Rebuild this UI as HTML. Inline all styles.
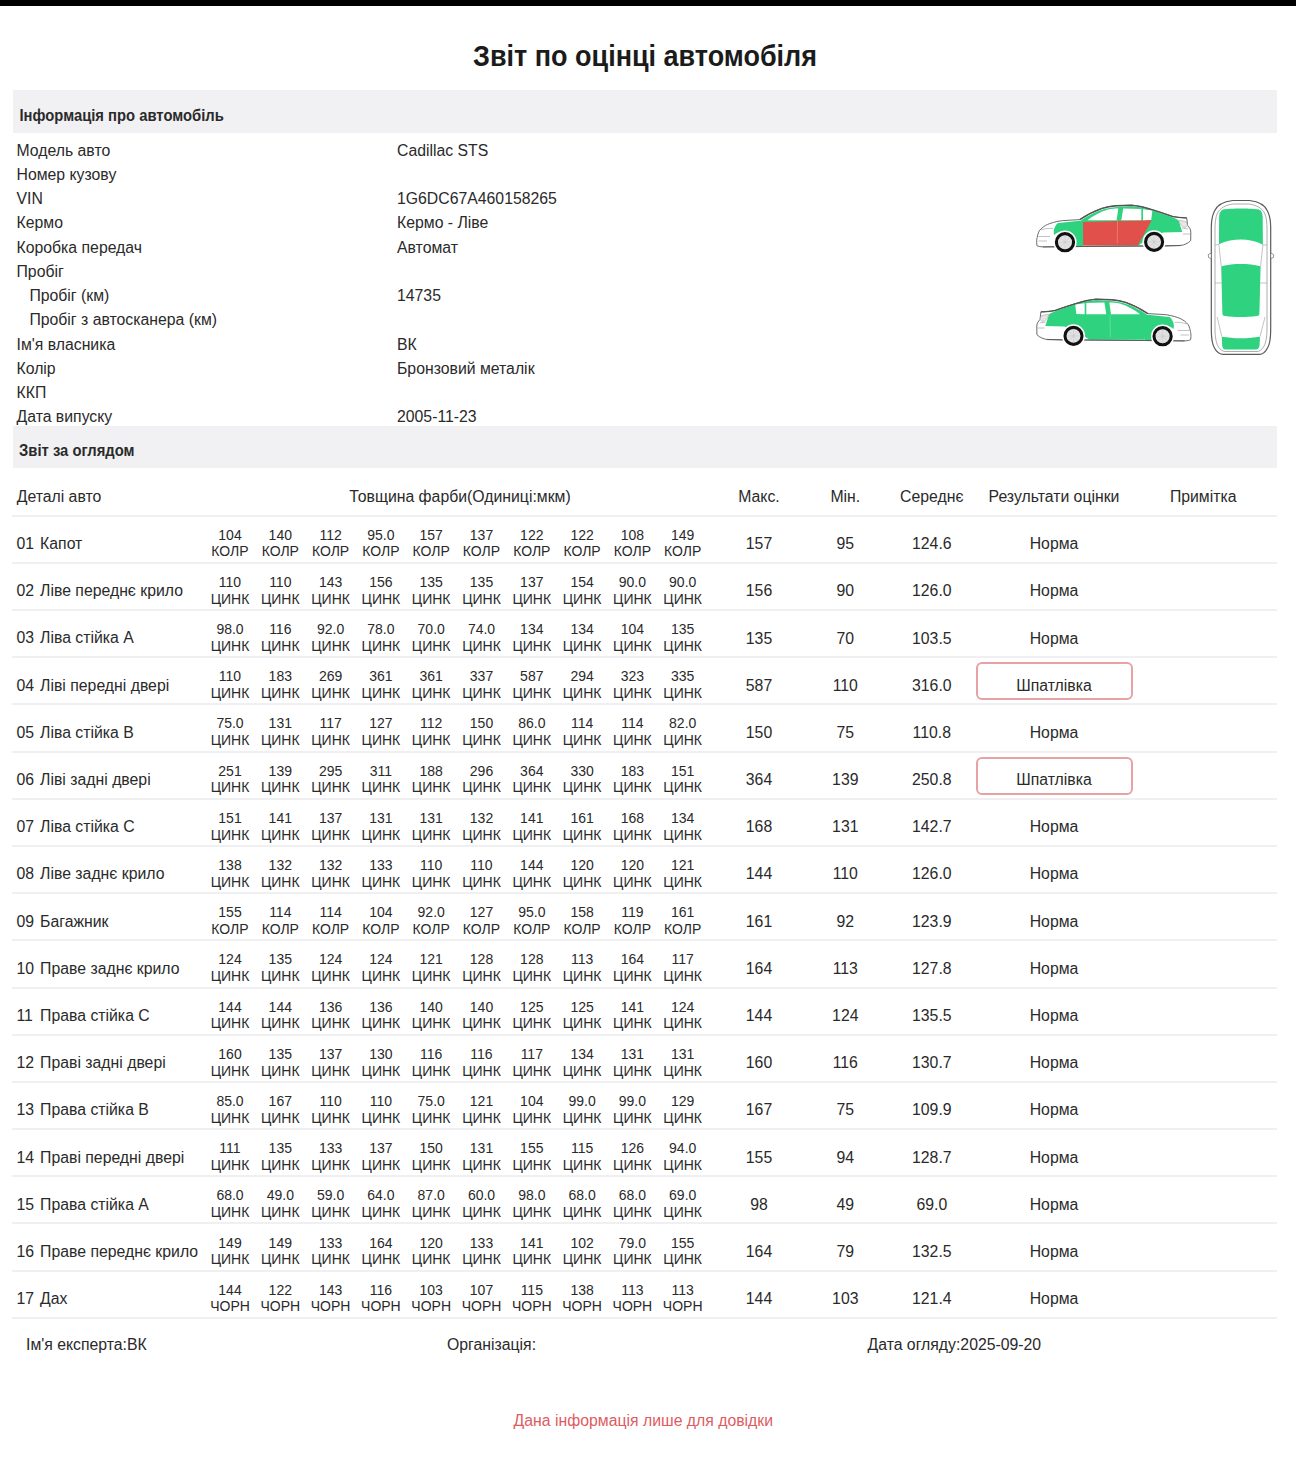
<!DOCTYPE html>
<html><head><meta charset="utf-8">
<style>
html,body{margin:0;padding:0;background:#fff;}
body{width:1296px;height:1459px;position:relative;overflow:hidden;font-family:"Liberation Sans",sans-serif;color:#2a2a2a;}
.t{position:absolute;white-space:nowrap;line-height:1;}
.c{text-align:center;}
.b{font-weight:bold;}
.title{color:#1b1b1b;}
.hd{color:#2a2a2a;transform:scaleY(1.08);transform-origin:0 84.6%;}
.red{color:#de5b62;}
.bar{position:absolute;left:13px;width:1264px;background:#f1f1f4;}
.ln{position:absolute;left:12px;width:1265px;height:2px;background:#f0f0f3;}
.box{position:absolute;box-sizing:border-box;border:2px solid #e6a2a4;border-radius:6px;}
svg{position:absolute;}
</style></head><body>
<div style="position:absolute;left:0;top:0;width:1296px;height:6px;background:#000"></div>
<div class="t c b title" style="left:345.00px;width:600px;top:43.94px;font-size:27px;transform:scaleY(1.07);transform-origin:50% 84%;">Звіт по оцінці автомобіля</div>
<div class="bar" style="top:90px;height:43px"></div>
<div class="t b hd" style="left:19.50px;top:109.17px;font-size:14.8px;">Інформація про автомобіль</div>
<div class="t " style="left:16.50px;top:142.73px;font-size:15.8px;">Модель авто</div>
<div class="t " style="left:397.00px;top:142.73px;font-size:15.8px;">Cadillac STS</div>
<div class="t " style="left:16.50px;top:166.98px;font-size:15.8px;">Номер кузову</div>
<div class="t " style="left:16.50px;top:191.23px;font-size:15.8px;">VIN</div>
<div class="t " style="left:397.00px;top:191.23px;font-size:15.8px;">1G6DC67A460158265</div>
<div class="t " style="left:16.50px;top:215.48px;font-size:15.8px;">Кермо</div>
<div class="t " style="left:397.00px;top:215.48px;font-size:15.8px;">Кермо - Ліве</div>
<div class="t " style="left:16.50px;top:239.73px;font-size:15.8px;">Коробка передач</div>
<div class="t " style="left:397.00px;top:239.73px;font-size:15.8px;">Автомат</div>
<div class="t " style="left:16.50px;top:263.98px;font-size:15.8px;">Пробіг</div>
<div class="t " style="left:29.40px;top:288.23px;font-size:15.8px;">Пробіг (км)</div>
<div class="t " style="left:397.00px;top:288.23px;font-size:15.8px;">14735</div>
<div class="t " style="left:29.40px;top:312.48px;font-size:15.8px;">Пробіг з автосканера (км)</div>
<div class="t " style="left:16.50px;top:336.73px;font-size:15.8px;">Ім'я власника</div>
<div class="t " style="left:397.00px;top:336.73px;font-size:15.8px;">ВК</div>
<div class="t " style="left:16.50px;top:360.98px;font-size:15.8px;">Колір</div>
<div class="t " style="left:397.00px;top:360.98px;font-size:15.8px;">Бронзовий металік</div>
<div class="t " style="left:16.50px;top:385.23px;font-size:15.8px;">ККП</div>
<div class="t " style="left:16.50px;top:409.48px;font-size:15.8px;">Дата випуску</div>
<div class="t " style="left:397.00px;top:409.48px;font-size:15.8px;">2005-11-23</div>
<div class="bar" style="top:426px;height:41.5px"></div>
<div class="t b hd" style="left:19.10px;top:444.27px;font-size:14.8px;">Звіт за оглядом</div>
<div class="t " style="left:16.70px;top:489.33px;font-size:15.8px;">Деталі авто</div>
<div class="t c " style="left:310.00px;width:300px;top:489.33px;font-size:15.8px;">Товщина фарби(Одиниці:мкм)</div>
<div class="t c " style="left:699.00px;width:120px;top:489.33px;font-size:15.8px;">Макс.</div>
<div class="t c " style="left:785.30px;width:120px;top:489.33px;font-size:15.8px;">Мін.</div>
<div class="t c " style="left:871.80px;width:120px;top:489.33px;font-size:15.8px;">Середнє</div>
<div class="t c " style="left:954.00px;width:200px;top:489.33px;font-size:15.8px;">Результати оцінки</div>
<div class="t c " style="left:1133.20px;width:140px;top:489.33px;font-size:15.8px;">Примітка</div>
<div class="ln" style="top:514.60px"></div>
<div class="t " style="left:16.40px;top:536.03px;font-size:15.8px;">01</div>
<div class="t " style="left:40.10px;top:536.03px;font-size:15.8px;">Капот</div>
<div class="t c " style="left:205.00px;width:50px;top:527.65px;font-size:14.0px;">104</div>
<div class="t c " style="left:202.00px;width:56px;top:544.45px;font-size:14.0px;">КОЛР</div>
<div class="t c " style="left:255.30px;width:50px;top:527.65px;font-size:14.0px;">140</div>
<div class="t c " style="left:252.30px;width:56px;top:544.45px;font-size:14.0px;">КОЛР</div>
<div class="t c " style="left:305.60px;width:50px;top:527.65px;font-size:14.0px;">112</div>
<div class="t c " style="left:302.60px;width:56px;top:544.45px;font-size:14.0px;">КОЛР</div>
<div class="t c " style="left:355.90px;width:50px;top:527.65px;font-size:14.0px;">95.0</div>
<div class="t c " style="left:352.90px;width:56px;top:544.45px;font-size:14.0px;">КОЛР</div>
<div class="t c " style="left:406.20px;width:50px;top:527.65px;font-size:14.0px;">157</div>
<div class="t c " style="left:403.20px;width:56px;top:544.45px;font-size:14.0px;">КОЛР</div>
<div class="t c " style="left:456.50px;width:50px;top:527.65px;font-size:14.0px;">137</div>
<div class="t c " style="left:453.50px;width:56px;top:544.45px;font-size:14.0px;">КОЛР</div>
<div class="t c " style="left:506.80px;width:50px;top:527.65px;font-size:14.0px;">122</div>
<div class="t c " style="left:503.80px;width:56px;top:544.45px;font-size:14.0px;">КОЛР</div>
<div class="t c " style="left:557.10px;width:50px;top:527.65px;font-size:14.0px;">122</div>
<div class="t c " style="left:554.10px;width:56px;top:544.45px;font-size:14.0px;">КОЛР</div>
<div class="t c " style="left:607.40px;width:50px;top:527.65px;font-size:14.0px;">108</div>
<div class="t c " style="left:604.40px;width:56px;top:544.45px;font-size:14.0px;">КОЛР</div>
<div class="t c " style="left:657.70px;width:50px;top:527.65px;font-size:14.0px;">149</div>
<div class="t c " style="left:654.70px;width:56px;top:544.45px;font-size:14.0px;">КОЛР</div>
<div class="t c " style="left:709.00px;width:100px;top:536.13px;font-size:15.8px;">157</div>
<div class="t c " style="left:795.30px;width:100px;top:536.13px;font-size:15.8px;">95</div>
<div class="t c " style="left:881.80px;width:100px;top:536.13px;font-size:15.8px;">124.6</div>
<div class="t c " style="left:974.00px;width:160px;top:536.13px;font-size:15.8px;">Норма</div>
<div class="ln" style="top:561.79px"></div>
<div class="t " style="left:16.40px;top:583.22px;font-size:15.8px;">02</div>
<div class="t " style="left:40.10px;top:583.22px;font-size:15.8px;">Ліве переднє крило</div>
<div class="t c " style="left:205.00px;width:50px;top:574.84px;font-size:14.0px;">110</div>
<div class="t c " style="left:202.00px;width:56px;top:591.64px;font-size:14.0px;">ЦИНК</div>
<div class="t c " style="left:255.30px;width:50px;top:574.84px;font-size:14.0px;">110</div>
<div class="t c " style="left:252.30px;width:56px;top:591.64px;font-size:14.0px;">ЦИНК</div>
<div class="t c " style="left:305.60px;width:50px;top:574.84px;font-size:14.0px;">143</div>
<div class="t c " style="left:302.60px;width:56px;top:591.64px;font-size:14.0px;">ЦИНК</div>
<div class="t c " style="left:355.90px;width:50px;top:574.84px;font-size:14.0px;">156</div>
<div class="t c " style="left:352.90px;width:56px;top:591.64px;font-size:14.0px;">ЦИНК</div>
<div class="t c " style="left:406.20px;width:50px;top:574.84px;font-size:14.0px;">135</div>
<div class="t c " style="left:403.20px;width:56px;top:591.64px;font-size:14.0px;">ЦИНК</div>
<div class="t c " style="left:456.50px;width:50px;top:574.84px;font-size:14.0px;">135</div>
<div class="t c " style="left:453.50px;width:56px;top:591.64px;font-size:14.0px;">ЦИНК</div>
<div class="t c " style="left:506.80px;width:50px;top:574.84px;font-size:14.0px;">137</div>
<div class="t c " style="left:503.80px;width:56px;top:591.64px;font-size:14.0px;">ЦИНК</div>
<div class="t c " style="left:557.10px;width:50px;top:574.84px;font-size:14.0px;">154</div>
<div class="t c " style="left:554.10px;width:56px;top:591.64px;font-size:14.0px;">ЦИНК</div>
<div class="t c " style="left:607.40px;width:50px;top:574.84px;font-size:14.0px;">90.0</div>
<div class="t c " style="left:604.40px;width:56px;top:591.64px;font-size:14.0px;">ЦИНК</div>
<div class="t c " style="left:657.70px;width:50px;top:574.84px;font-size:14.0px;">90.0</div>
<div class="t c " style="left:654.70px;width:56px;top:591.64px;font-size:14.0px;">ЦИНК</div>
<div class="t c " style="left:709.00px;width:100px;top:583.32px;font-size:15.8px;">156</div>
<div class="t c " style="left:795.30px;width:100px;top:583.32px;font-size:15.8px;">90</div>
<div class="t c " style="left:881.80px;width:100px;top:583.32px;font-size:15.8px;">126.0</div>
<div class="t c " style="left:974.00px;width:160px;top:583.32px;font-size:15.8px;">Норма</div>
<div class="ln" style="top:608.98px"></div>
<div class="t " style="left:16.40px;top:630.41px;font-size:15.8px;">03</div>
<div class="t " style="left:40.10px;top:630.41px;font-size:15.8px;">Ліва стійка A</div>
<div class="t c " style="left:205.00px;width:50px;top:622.03px;font-size:14.0px;">98.0</div>
<div class="t c " style="left:202.00px;width:56px;top:638.83px;font-size:14.0px;">ЦИНК</div>
<div class="t c " style="left:255.30px;width:50px;top:622.03px;font-size:14.0px;">116</div>
<div class="t c " style="left:252.30px;width:56px;top:638.83px;font-size:14.0px;">ЦИНК</div>
<div class="t c " style="left:305.60px;width:50px;top:622.03px;font-size:14.0px;">92.0</div>
<div class="t c " style="left:302.60px;width:56px;top:638.83px;font-size:14.0px;">ЦИНК</div>
<div class="t c " style="left:355.90px;width:50px;top:622.03px;font-size:14.0px;">78.0</div>
<div class="t c " style="left:352.90px;width:56px;top:638.83px;font-size:14.0px;">ЦИНК</div>
<div class="t c " style="left:406.20px;width:50px;top:622.03px;font-size:14.0px;">70.0</div>
<div class="t c " style="left:403.20px;width:56px;top:638.83px;font-size:14.0px;">ЦИНК</div>
<div class="t c " style="left:456.50px;width:50px;top:622.03px;font-size:14.0px;">74.0</div>
<div class="t c " style="left:453.50px;width:56px;top:638.83px;font-size:14.0px;">ЦИНК</div>
<div class="t c " style="left:506.80px;width:50px;top:622.03px;font-size:14.0px;">134</div>
<div class="t c " style="left:503.80px;width:56px;top:638.83px;font-size:14.0px;">ЦИНК</div>
<div class="t c " style="left:557.10px;width:50px;top:622.03px;font-size:14.0px;">134</div>
<div class="t c " style="left:554.10px;width:56px;top:638.83px;font-size:14.0px;">ЦИНК</div>
<div class="t c " style="left:607.40px;width:50px;top:622.03px;font-size:14.0px;">104</div>
<div class="t c " style="left:604.40px;width:56px;top:638.83px;font-size:14.0px;">ЦИНК</div>
<div class="t c " style="left:657.70px;width:50px;top:622.03px;font-size:14.0px;">135</div>
<div class="t c " style="left:654.70px;width:56px;top:638.83px;font-size:14.0px;">ЦИНК</div>
<div class="t c " style="left:709.00px;width:100px;top:630.51px;font-size:15.8px;">135</div>
<div class="t c " style="left:795.30px;width:100px;top:630.51px;font-size:15.8px;">70</div>
<div class="t c " style="left:881.80px;width:100px;top:630.51px;font-size:15.8px;">103.5</div>
<div class="t c " style="left:974.00px;width:160px;top:630.51px;font-size:15.8px;">Норма</div>
<div class="ln" style="top:656.17px"></div>
<div class="t " style="left:16.40px;top:677.60px;font-size:15.8px;">04</div>
<div class="t " style="left:40.10px;top:677.60px;font-size:15.8px;">Ліві передні двері</div>
<div class="t c " style="left:205.00px;width:50px;top:669.22px;font-size:14.0px;">110</div>
<div class="t c " style="left:202.00px;width:56px;top:686.02px;font-size:14.0px;">ЦИНК</div>
<div class="t c " style="left:255.30px;width:50px;top:669.22px;font-size:14.0px;">183</div>
<div class="t c " style="left:252.30px;width:56px;top:686.02px;font-size:14.0px;">ЦИНК</div>
<div class="t c " style="left:305.60px;width:50px;top:669.22px;font-size:14.0px;">269</div>
<div class="t c " style="left:302.60px;width:56px;top:686.02px;font-size:14.0px;">ЦИНК</div>
<div class="t c " style="left:355.90px;width:50px;top:669.22px;font-size:14.0px;">361</div>
<div class="t c " style="left:352.90px;width:56px;top:686.02px;font-size:14.0px;">ЦИНК</div>
<div class="t c " style="left:406.20px;width:50px;top:669.22px;font-size:14.0px;">361</div>
<div class="t c " style="left:403.20px;width:56px;top:686.02px;font-size:14.0px;">ЦИНК</div>
<div class="t c " style="left:456.50px;width:50px;top:669.22px;font-size:14.0px;">337</div>
<div class="t c " style="left:453.50px;width:56px;top:686.02px;font-size:14.0px;">ЦИНК</div>
<div class="t c " style="left:506.80px;width:50px;top:669.22px;font-size:14.0px;">587</div>
<div class="t c " style="left:503.80px;width:56px;top:686.02px;font-size:14.0px;">ЦИНК</div>
<div class="t c " style="left:557.10px;width:50px;top:669.22px;font-size:14.0px;">294</div>
<div class="t c " style="left:554.10px;width:56px;top:686.02px;font-size:14.0px;">ЦИНК</div>
<div class="t c " style="left:607.40px;width:50px;top:669.22px;font-size:14.0px;">323</div>
<div class="t c " style="left:604.40px;width:56px;top:686.02px;font-size:14.0px;">ЦИНК</div>
<div class="t c " style="left:657.70px;width:50px;top:669.22px;font-size:14.0px;">335</div>
<div class="t c " style="left:654.70px;width:56px;top:686.02px;font-size:14.0px;">ЦИНК</div>
<div class="t c " style="left:709.00px;width:100px;top:677.70px;font-size:15.8px;">587</div>
<div class="t c " style="left:795.30px;width:100px;top:677.70px;font-size:15.8px;">110</div>
<div class="t c " style="left:881.80px;width:100px;top:677.70px;font-size:15.8px;">316.0</div>
<div class="box" style="left:976px;top:662.37px;width:156.5px;height:37.8px"></div>
<div class="t c " style="left:974.00px;width:160px;top:677.70px;font-size:15.8px;">Шпатлівка</div>
<div class="ln" style="top:703.36px"></div>
<div class="t " style="left:16.40px;top:724.79px;font-size:15.8px;">05</div>
<div class="t " style="left:40.10px;top:724.79px;font-size:15.8px;">Ліва стійка B</div>
<div class="t c " style="left:205.00px;width:50px;top:716.41px;font-size:14.0px;">75.0</div>
<div class="t c " style="left:202.00px;width:56px;top:733.21px;font-size:14.0px;">ЦИНК</div>
<div class="t c " style="left:255.30px;width:50px;top:716.41px;font-size:14.0px;">131</div>
<div class="t c " style="left:252.30px;width:56px;top:733.21px;font-size:14.0px;">ЦИНК</div>
<div class="t c " style="left:305.60px;width:50px;top:716.41px;font-size:14.0px;">117</div>
<div class="t c " style="left:302.60px;width:56px;top:733.21px;font-size:14.0px;">ЦИНК</div>
<div class="t c " style="left:355.90px;width:50px;top:716.41px;font-size:14.0px;">127</div>
<div class="t c " style="left:352.90px;width:56px;top:733.21px;font-size:14.0px;">ЦИНК</div>
<div class="t c " style="left:406.20px;width:50px;top:716.41px;font-size:14.0px;">112</div>
<div class="t c " style="left:403.20px;width:56px;top:733.21px;font-size:14.0px;">ЦИНК</div>
<div class="t c " style="left:456.50px;width:50px;top:716.41px;font-size:14.0px;">150</div>
<div class="t c " style="left:453.50px;width:56px;top:733.21px;font-size:14.0px;">ЦИНК</div>
<div class="t c " style="left:506.80px;width:50px;top:716.41px;font-size:14.0px;">86.0</div>
<div class="t c " style="left:503.80px;width:56px;top:733.21px;font-size:14.0px;">ЦИНК</div>
<div class="t c " style="left:557.10px;width:50px;top:716.41px;font-size:14.0px;">114</div>
<div class="t c " style="left:554.10px;width:56px;top:733.21px;font-size:14.0px;">ЦИНК</div>
<div class="t c " style="left:607.40px;width:50px;top:716.41px;font-size:14.0px;">114</div>
<div class="t c " style="left:604.40px;width:56px;top:733.21px;font-size:14.0px;">ЦИНК</div>
<div class="t c " style="left:657.70px;width:50px;top:716.41px;font-size:14.0px;">82.0</div>
<div class="t c " style="left:654.70px;width:56px;top:733.21px;font-size:14.0px;">ЦИНК</div>
<div class="t c " style="left:709.00px;width:100px;top:724.89px;font-size:15.8px;">150</div>
<div class="t c " style="left:795.30px;width:100px;top:724.89px;font-size:15.8px;">75</div>
<div class="t c " style="left:881.80px;width:100px;top:724.89px;font-size:15.8px;">110.8</div>
<div class="t c " style="left:974.00px;width:160px;top:724.89px;font-size:15.8px;">Норма</div>
<div class="ln" style="top:750.55px"></div>
<div class="t " style="left:16.40px;top:771.98px;font-size:15.8px;">06</div>
<div class="t " style="left:40.10px;top:771.98px;font-size:15.8px;">Ліві задні двері</div>
<div class="t c " style="left:205.00px;width:50px;top:763.60px;font-size:14.0px;">251</div>
<div class="t c " style="left:202.00px;width:56px;top:780.40px;font-size:14.0px;">ЦИНК</div>
<div class="t c " style="left:255.30px;width:50px;top:763.60px;font-size:14.0px;">139</div>
<div class="t c " style="left:252.30px;width:56px;top:780.40px;font-size:14.0px;">ЦИНК</div>
<div class="t c " style="left:305.60px;width:50px;top:763.60px;font-size:14.0px;">295</div>
<div class="t c " style="left:302.60px;width:56px;top:780.40px;font-size:14.0px;">ЦИНК</div>
<div class="t c " style="left:355.90px;width:50px;top:763.60px;font-size:14.0px;">311</div>
<div class="t c " style="left:352.90px;width:56px;top:780.40px;font-size:14.0px;">ЦИНК</div>
<div class="t c " style="left:406.20px;width:50px;top:763.60px;font-size:14.0px;">188</div>
<div class="t c " style="left:403.20px;width:56px;top:780.40px;font-size:14.0px;">ЦИНК</div>
<div class="t c " style="left:456.50px;width:50px;top:763.60px;font-size:14.0px;">296</div>
<div class="t c " style="left:453.50px;width:56px;top:780.40px;font-size:14.0px;">ЦИНК</div>
<div class="t c " style="left:506.80px;width:50px;top:763.60px;font-size:14.0px;">364</div>
<div class="t c " style="left:503.80px;width:56px;top:780.40px;font-size:14.0px;">ЦИНК</div>
<div class="t c " style="left:557.10px;width:50px;top:763.60px;font-size:14.0px;">330</div>
<div class="t c " style="left:554.10px;width:56px;top:780.40px;font-size:14.0px;">ЦИНК</div>
<div class="t c " style="left:607.40px;width:50px;top:763.60px;font-size:14.0px;">183</div>
<div class="t c " style="left:604.40px;width:56px;top:780.40px;font-size:14.0px;">ЦИНК</div>
<div class="t c " style="left:657.70px;width:50px;top:763.60px;font-size:14.0px;">151</div>
<div class="t c " style="left:654.70px;width:56px;top:780.40px;font-size:14.0px;">ЦИНК</div>
<div class="t c " style="left:709.00px;width:100px;top:772.08px;font-size:15.8px;">364</div>
<div class="t c " style="left:795.30px;width:100px;top:772.08px;font-size:15.8px;">139</div>
<div class="t c " style="left:881.80px;width:100px;top:772.08px;font-size:15.8px;">250.8</div>
<div class="box" style="left:976px;top:756.75px;width:156.5px;height:37.8px"></div>
<div class="t c " style="left:974.00px;width:160px;top:772.08px;font-size:15.8px;">Шпатлівка</div>
<div class="ln" style="top:797.74px"></div>
<div class="t " style="left:16.40px;top:819.17px;font-size:15.8px;">07</div>
<div class="t " style="left:40.10px;top:819.17px;font-size:15.8px;">Ліва стійка C</div>
<div class="t c " style="left:205.00px;width:50px;top:810.79px;font-size:14.0px;">151</div>
<div class="t c " style="left:202.00px;width:56px;top:827.59px;font-size:14.0px;">ЦИНК</div>
<div class="t c " style="left:255.30px;width:50px;top:810.79px;font-size:14.0px;">141</div>
<div class="t c " style="left:252.30px;width:56px;top:827.59px;font-size:14.0px;">ЦИНК</div>
<div class="t c " style="left:305.60px;width:50px;top:810.79px;font-size:14.0px;">137</div>
<div class="t c " style="left:302.60px;width:56px;top:827.59px;font-size:14.0px;">ЦИНК</div>
<div class="t c " style="left:355.90px;width:50px;top:810.79px;font-size:14.0px;">131</div>
<div class="t c " style="left:352.90px;width:56px;top:827.59px;font-size:14.0px;">ЦИНК</div>
<div class="t c " style="left:406.20px;width:50px;top:810.79px;font-size:14.0px;">131</div>
<div class="t c " style="left:403.20px;width:56px;top:827.59px;font-size:14.0px;">ЦИНК</div>
<div class="t c " style="left:456.50px;width:50px;top:810.79px;font-size:14.0px;">132</div>
<div class="t c " style="left:453.50px;width:56px;top:827.59px;font-size:14.0px;">ЦИНК</div>
<div class="t c " style="left:506.80px;width:50px;top:810.79px;font-size:14.0px;">141</div>
<div class="t c " style="left:503.80px;width:56px;top:827.59px;font-size:14.0px;">ЦИНК</div>
<div class="t c " style="left:557.10px;width:50px;top:810.79px;font-size:14.0px;">161</div>
<div class="t c " style="left:554.10px;width:56px;top:827.59px;font-size:14.0px;">ЦИНК</div>
<div class="t c " style="left:607.40px;width:50px;top:810.79px;font-size:14.0px;">168</div>
<div class="t c " style="left:604.40px;width:56px;top:827.59px;font-size:14.0px;">ЦИНК</div>
<div class="t c " style="left:657.70px;width:50px;top:810.79px;font-size:14.0px;">134</div>
<div class="t c " style="left:654.70px;width:56px;top:827.59px;font-size:14.0px;">ЦИНК</div>
<div class="t c " style="left:709.00px;width:100px;top:819.27px;font-size:15.8px;">168</div>
<div class="t c " style="left:795.30px;width:100px;top:819.27px;font-size:15.8px;">131</div>
<div class="t c " style="left:881.80px;width:100px;top:819.27px;font-size:15.8px;">142.7</div>
<div class="t c " style="left:974.00px;width:160px;top:819.27px;font-size:15.8px;">Норма</div>
<div class="ln" style="top:844.93px"></div>
<div class="t " style="left:16.40px;top:866.36px;font-size:15.8px;">08</div>
<div class="t " style="left:40.10px;top:866.36px;font-size:15.8px;">Ліве заднє крило</div>
<div class="t c " style="left:205.00px;width:50px;top:857.98px;font-size:14.0px;">138</div>
<div class="t c " style="left:202.00px;width:56px;top:874.78px;font-size:14.0px;">ЦИНК</div>
<div class="t c " style="left:255.30px;width:50px;top:857.98px;font-size:14.0px;">132</div>
<div class="t c " style="left:252.30px;width:56px;top:874.78px;font-size:14.0px;">ЦИНК</div>
<div class="t c " style="left:305.60px;width:50px;top:857.98px;font-size:14.0px;">132</div>
<div class="t c " style="left:302.60px;width:56px;top:874.78px;font-size:14.0px;">ЦИНК</div>
<div class="t c " style="left:355.90px;width:50px;top:857.98px;font-size:14.0px;">133</div>
<div class="t c " style="left:352.90px;width:56px;top:874.78px;font-size:14.0px;">ЦИНК</div>
<div class="t c " style="left:406.20px;width:50px;top:857.98px;font-size:14.0px;">110</div>
<div class="t c " style="left:403.20px;width:56px;top:874.78px;font-size:14.0px;">ЦИНК</div>
<div class="t c " style="left:456.50px;width:50px;top:857.98px;font-size:14.0px;">110</div>
<div class="t c " style="left:453.50px;width:56px;top:874.78px;font-size:14.0px;">ЦИНК</div>
<div class="t c " style="left:506.80px;width:50px;top:857.98px;font-size:14.0px;">144</div>
<div class="t c " style="left:503.80px;width:56px;top:874.78px;font-size:14.0px;">ЦИНК</div>
<div class="t c " style="left:557.10px;width:50px;top:857.98px;font-size:14.0px;">120</div>
<div class="t c " style="left:554.10px;width:56px;top:874.78px;font-size:14.0px;">ЦИНК</div>
<div class="t c " style="left:607.40px;width:50px;top:857.98px;font-size:14.0px;">120</div>
<div class="t c " style="left:604.40px;width:56px;top:874.78px;font-size:14.0px;">ЦИНК</div>
<div class="t c " style="left:657.70px;width:50px;top:857.98px;font-size:14.0px;">121</div>
<div class="t c " style="left:654.70px;width:56px;top:874.78px;font-size:14.0px;">ЦИНК</div>
<div class="t c " style="left:709.00px;width:100px;top:866.46px;font-size:15.8px;">144</div>
<div class="t c " style="left:795.30px;width:100px;top:866.46px;font-size:15.8px;">110</div>
<div class="t c " style="left:881.80px;width:100px;top:866.46px;font-size:15.8px;">126.0</div>
<div class="t c " style="left:974.00px;width:160px;top:866.46px;font-size:15.8px;">Норма</div>
<div class="ln" style="top:892.12px"></div>
<div class="t " style="left:16.40px;top:913.55px;font-size:15.8px;">09</div>
<div class="t " style="left:40.10px;top:913.55px;font-size:15.8px;">Багажник</div>
<div class="t c " style="left:205.00px;width:50px;top:905.17px;font-size:14.0px;">155</div>
<div class="t c " style="left:202.00px;width:56px;top:921.97px;font-size:14.0px;">КОЛР</div>
<div class="t c " style="left:255.30px;width:50px;top:905.17px;font-size:14.0px;">114</div>
<div class="t c " style="left:252.30px;width:56px;top:921.97px;font-size:14.0px;">КОЛР</div>
<div class="t c " style="left:305.60px;width:50px;top:905.17px;font-size:14.0px;">114</div>
<div class="t c " style="left:302.60px;width:56px;top:921.97px;font-size:14.0px;">КОЛР</div>
<div class="t c " style="left:355.90px;width:50px;top:905.17px;font-size:14.0px;">104</div>
<div class="t c " style="left:352.90px;width:56px;top:921.97px;font-size:14.0px;">КОЛР</div>
<div class="t c " style="left:406.20px;width:50px;top:905.17px;font-size:14.0px;">92.0</div>
<div class="t c " style="left:403.20px;width:56px;top:921.97px;font-size:14.0px;">КОЛР</div>
<div class="t c " style="left:456.50px;width:50px;top:905.17px;font-size:14.0px;">127</div>
<div class="t c " style="left:453.50px;width:56px;top:921.97px;font-size:14.0px;">КОЛР</div>
<div class="t c " style="left:506.80px;width:50px;top:905.17px;font-size:14.0px;">95.0</div>
<div class="t c " style="left:503.80px;width:56px;top:921.97px;font-size:14.0px;">КОЛР</div>
<div class="t c " style="left:557.10px;width:50px;top:905.17px;font-size:14.0px;">158</div>
<div class="t c " style="left:554.10px;width:56px;top:921.97px;font-size:14.0px;">КОЛР</div>
<div class="t c " style="left:607.40px;width:50px;top:905.17px;font-size:14.0px;">119</div>
<div class="t c " style="left:604.40px;width:56px;top:921.97px;font-size:14.0px;">КОЛР</div>
<div class="t c " style="left:657.70px;width:50px;top:905.17px;font-size:14.0px;">161</div>
<div class="t c " style="left:654.70px;width:56px;top:921.97px;font-size:14.0px;">КОЛР</div>
<div class="t c " style="left:709.00px;width:100px;top:913.65px;font-size:15.8px;">161</div>
<div class="t c " style="left:795.30px;width:100px;top:913.65px;font-size:15.8px;">92</div>
<div class="t c " style="left:881.80px;width:100px;top:913.65px;font-size:15.8px;">123.9</div>
<div class="t c " style="left:974.00px;width:160px;top:913.65px;font-size:15.8px;">Норма</div>
<div class="ln" style="top:939.31px"></div>
<div class="t " style="left:16.40px;top:960.74px;font-size:15.8px;">10</div>
<div class="t " style="left:40.10px;top:960.74px;font-size:15.8px;">Праве заднє крило</div>
<div class="t c " style="left:205.00px;width:50px;top:952.36px;font-size:14.0px;">124</div>
<div class="t c " style="left:202.00px;width:56px;top:969.16px;font-size:14.0px;">ЦИНК</div>
<div class="t c " style="left:255.30px;width:50px;top:952.36px;font-size:14.0px;">135</div>
<div class="t c " style="left:252.30px;width:56px;top:969.16px;font-size:14.0px;">ЦИНК</div>
<div class="t c " style="left:305.60px;width:50px;top:952.36px;font-size:14.0px;">124</div>
<div class="t c " style="left:302.60px;width:56px;top:969.16px;font-size:14.0px;">ЦИНК</div>
<div class="t c " style="left:355.90px;width:50px;top:952.36px;font-size:14.0px;">124</div>
<div class="t c " style="left:352.90px;width:56px;top:969.16px;font-size:14.0px;">ЦИНК</div>
<div class="t c " style="left:406.20px;width:50px;top:952.36px;font-size:14.0px;">121</div>
<div class="t c " style="left:403.20px;width:56px;top:969.16px;font-size:14.0px;">ЦИНК</div>
<div class="t c " style="left:456.50px;width:50px;top:952.36px;font-size:14.0px;">128</div>
<div class="t c " style="left:453.50px;width:56px;top:969.16px;font-size:14.0px;">ЦИНК</div>
<div class="t c " style="left:506.80px;width:50px;top:952.36px;font-size:14.0px;">128</div>
<div class="t c " style="left:503.80px;width:56px;top:969.16px;font-size:14.0px;">ЦИНК</div>
<div class="t c " style="left:557.10px;width:50px;top:952.36px;font-size:14.0px;">113</div>
<div class="t c " style="left:554.10px;width:56px;top:969.16px;font-size:14.0px;">ЦИНК</div>
<div class="t c " style="left:607.40px;width:50px;top:952.36px;font-size:14.0px;">164</div>
<div class="t c " style="left:604.40px;width:56px;top:969.16px;font-size:14.0px;">ЦИНК</div>
<div class="t c " style="left:657.70px;width:50px;top:952.36px;font-size:14.0px;">117</div>
<div class="t c " style="left:654.70px;width:56px;top:969.16px;font-size:14.0px;">ЦИНК</div>
<div class="t c " style="left:709.00px;width:100px;top:960.84px;font-size:15.8px;">164</div>
<div class="t c " style="left:795.30px;width:100px;top:960.84px;font-size:15.8px;">113</div>
<div class="t c " style="left:881.80px;width:100px;top:960.84px;font-size:15.8px;">127.8</div>
<div class="t c " style="left:974.00px;width:160px;top:960.84px;font-size:15.8px;">Норма</div>
<div class="ln" style="top:986.50px"></div>
<div class="t " style="left:16.40px;top:1007.93px;font-size:15.8px;">11</div>
<div class="t " style="left:40.10px;top:1007.93px;font-size:15.8px;">Права стійка C</div>
<div class="t c " style="left:205.00px;width:50px;top:999.55px;font-size:14.0px;">144</div>
<div class="t c " style="left:202.00px;width:56px;top:1016.35px;font-size:14.0px;">ЦИНК</div>
<div class="t c " style="left:255.30px;width:50px;top:999.55px;font-size:14.0px;">144</div>
<div class="t c " style="left:252.30px;width:56px;top:1016.35px;font-size:14.0px;">ЦИНК</div>
<div class="t c " style="left:305.60px;width:50px;top:999.55px;font-size:14.0px;">136</div>
<div class="t c " style="left:302.60px;width:56px;top:1016.35px;font-size:14.0px;">ЦИНК</div>
<div class="t c " style="left:355.90px;width:50px;top:999.55px;font-size:14.0px;">136</div>
<div class="t c " style="left:352.90px;width:56px;top:1016.35px;font-size:14.0px;">ЦИНК</div>
<div class="t c " style="left:406.20px;width:50px;top:999.55px;font-size:14.0px;">140</div>
<div class="t c " style="left:403.20px;width:56px;top:1016.35px;font-size:14.0px;">ЦИНК</div>
<div class="t c " style="left:456.50px;width:50px;top:999.55px;font-size:14.0px;">140</div>
<div class="t c " style="left:453.50px;width:56px;top:1016.35px;font-size:14.0px;">ЦИНК</div>
<div class="t c " style="left:506.80px;width:50px;top:999.55px;font-size:14.0px;">125</div>
<div class="t c " style="left:503.80px;width:56px;top:1016.35px;font-size:14.0px;">ЦИНК</div>
<div class="t c " style="left:557.10px;width:50px;top:999.55px;font-size:14.0px;">125</div>
<div class="t c " style="left:554.10px;width:56px;top:1016.35px;font-size:14.0px;">ЦИНК</div>
<div class="t c " style="left:607.40px;width:50px;top:999.55px;font-size:14.0px;">141</div>
<div class="t c " style="left:604.40px;width:56px;top:1016.35px;font-size:14.0px;">ЦИНК</div>
<div class="t c " style="left:657.70px;width:50px;top:999.55px;font-size:14.0px;">124</div>
<div class="t c " style="left:654.70px;width:56px;top:1016.35px;font-size:14.0px;">ЦИНК</div>
<div class="t c " style="left:709.00px;width:100px;top:1008.03px;font-size:15.8px;">144</div>
<div class="t c " style="left:795.30px;width:100px;top:1008.03px;font-size:15.8px;">124</div>
<div class="t c " style="left:881.80px;width:100px;top:1008.03px;font-size:15.8px;">135.5</div>
<div class="t c " style="left:974.00px;width:160px;top:1008.03px;font-size:15.8px;">Норма</div>
<div class="ln" style="top:1033.69px"></div>
<div class="t " style="left:16.40px;top:1055.12px;font-size:15.8px;">12</div>
<div class="t " style="left:40.10px;top:1055.12px;font-size:15.8px;">Праві задні двері</div>
<div class="t c " style="left:205.00px;width:50px;top:1046.74px;font-size:14.0px;">160</div>
<div class="t c " style="left:202.00px;width:56px;top:1063.54px;font-size:14.0px;">ЦИНК</div>
<div class="t c " style="left:255.30px;width:50px;top:1046.74px;font-size:14.0px;">135</div>
<div class="t c " style="left:252.30px;width:56px;top:1063.54px;font-size:14.0px;">ЦИНК</div>
<div class="t c " style="left:305.60px;width:50px;top:1046.74px;font-size:14.0px;">137</div>
<div class="t c " style="left:302.60px;width:56px;top:1063.54px;font-size:14.0px;">ЦИНК</div>
<div class="t c " style="left:355.90px;width:50px;top:1046.74px;font-size:14.0px;">130</div>
<div class="t c " style="left:352.90px;width:56px;top:1063.54px;font-size:14.0px;">ЦИНК</div>
<div class="t c " style="left:406.20px;width:50px;top:1046.74px;font-size:14.0px;">116</div>
<div class="t c " style="left:403.20px;width:56px;top:1063.54px;font-size:14.0px;">ЦИНК</div>
<div class="t c " style="left:456.50px;width:50px;top:1046.74px;font-size:14.0px;">116</div>
<div class="t c " style="left:453.50px;width:56px;top:1063.54px;font-size:14.0px;">ЦИНК</div>
<div class="t c " style="left:506.80px;width:50px;top:1046.74px;font-size:14.0px;">117</div>
<div class="t c " style="left:503.80px;width:56px;top:1063.54px;font-size:14.0px;">ЦИНК</div>
<div class="t c " style="left:557.10px;width:50px;top:1046.74px;font-size:14.0px;">134</div>
<div class="t c " style="left:554.10px;width:56px;top:1063.54px;font-size:14.0px;">ЦИНК</div>
<div class="t c " style="left:607.40px;width:50px;top:1046.74px;font-size:14.0px;">131</div>
<div class="t c " style="left:604.40px;width:56px;top:1063.54px;font-size:14.0px;">ЦИНК</div>
<div class="t c " style="left:657.70px;width:50px;top:1046.74px;font-size:14.0px;">131</div>
<div class="t c " style="left:654.70px;width:56px;top:1063.54px;font-size:14.0px;">ЦИНК</div>
<div class="t c " style="left:709.00px;width:100px;top:1055.22px;font-size:15.8px;">160</div>
<div class="t c " style="left:795.30px;width:100px;top:1055.22px;font-size:15.8px;">116</div>
<div class="t c " style="left:881.80px;width:100px;top:1055.22px;font-size:15.8px;">130.7</div>
<div class="t c " style="left:974.00px;width:160px;top:1055.22px;font-size:15.8px;">Норма</div>
<div class="ln" style="top:1080.88px"></div>
<div class="t " style="left:16.40px;top:1102.31px;font-size:15.8px;">13</div>
<div class="t " style="left:40.10px;top:1102.31px;font-size:15.8px;">Права стійка B</div>
<div class="t c " style="left:205.00px;width:50px;top:1093.93px;font-size:14.0px;">85.0</div>
<div class="t c " style="left:202.00px;width:56px;top:1110.73px;font-size:14.0px;">ЦИНК</div>
<div class="t c " style="left:255.30px;width:50px;top:1093.93px;font-size:14.0px;">167</div>
<div class="t c " style="left:252.30px;width:56px;top:1110.73px;font-size:14.0px;">ЦИНК</div>
<div class="t c " style="left:305.60px;width:50px;top:1093.93px;font-size:14.0px;">110</div>
<div class="t c " style="left:302.60px;width:56px;top:1110.73px;font-size:14.0px;">ЦИНК</div>
<div class="t c " style="left:355.90px;width:50px;top:1093.93px;font-size:14.0px;">110</div>
<div class="t c " style="left:352.90px;width:56px;top:1110.73px;font-size:14.0px;">ЦИНК</div>
<div class="t c " style="left:406.20px;width:50px;top:1093.93px;font-size:14.0px;">75.0</div>
<div class="t c " style="left:403.20px;width:56px;top:1110.73px;font-size:14.0px;">ЦИНК</div>
<div class="t c " style="left:456.50px;width:50px;top:1093.93px;font-size:14.0px;">121</div>
<div class="t c " style="left:453.50px;width:56px;top:1110.73px;font-size:14.0px;">ЦИНК</div>
<div class="t c " style="left:506.80px;width:50px;top:1093.93px;font-size:14.0px;">104</div>
<div class="t c " style="left:503.80px;width:56px;top:1110.73px;font-size:14.0px;">ЦИНК</div>
<div class="t c " style="left:557.10px;width:50px;top:1093.93px;font-size:14.0px;">99.0</div>
<div class="t c " style="left:554.10px;width:56px;top:1110.73px;font-size:14.0px;">ЦИНК</div>
<div class="t c " style="left:607.40px;width:50px;top:1093.93px;font-size:14.0px;">99.0</div>
<div class="t c " style="left:604.40px;width:56px;top:1110.73px;font-size:14.0px;">ЦИНК</div>
<div class="t c " style="left:657.70px;width:50px;top:1093.93px;font-size:14.0px;">129</div>
<div class="t c " style="left:654.70px;width:56px;top:1110.73px;font-size:14.0px;">ЦИНК</div>
<div class="t c " style="left:709.00px;width:100px;top:1102.41px;font-size:15.8px;">167</div>
<div class="t c " style="left:795.30px;width:100px;top:1102.41px;font-size:15.8px;">75</div>
<div class="t c " style="left:881.80px;width:100px;top:1102.41px;font-size:15.8px;">109.9</div>
<div class="t c " style="left:974.00px;width:160px;top:1102.41px;font-size:15.8px;">Норма</div>
<div class="ln" style="top:1128.07px"></div>
<div class="t " style="left:16.40px;top:1149.50px;font-size:15.8px;">14</div>
<div class="t " style="left:40.10px;top:1149.50px;font-size:15.8px;">Праві передні двері</div>
<div class="t c " style="left:205.00px;width:50px;top:1141.12px;font-size:14.0px;">111</div>
<div class="t c " style="left:202.00px;width:56px;top:1157.92px;font-size:14.0px;">ЦИНК</div>
<div class="t c " style="left:255.30px;width:50px;top:1141.12px;font-size:14.0px;">135</div>
<div class="t c " style="left:252.30px;width:56px;top:1157.92px;font-size:14.0px;">ЦИНК</div>
<div class="t c " style="left:305.60px;width:50px;top:1141.12px;font-size:14.0px;">133</div>
<div class="t c " style="left:302.60px;width:56px;top:1157.92px;font-size:14.0px;">ЦИНК</div>
<div class="t c " style="left:355.90px;width:50px;top:1141.12px;font-size:14.0px;">137</div>
<div class="t c " style="left:352.90px;width:56px;top:1157.92px;font-size:14.0px;">ЦИНК</div>
<div class="t c " style="left:406.20px;width:50px;top:1141.12px;font-size:14.0px;">150</div>
<div class="t c " style="left:403.20px;width:56px;top:1157.92px;font-size:14.0px;">ЦИНК</div>
<div class="t c " style="left:456.50px;width:50px;top:1141.12px;font-size:14.0px;">131</div>
<div class="t c " style="left:453.50px;width:56px;top:1157.92px;font-size:14.0px;">ЦИНК</div>
<div class="t c " style="left:506.80px;width:50px;top:1141.12px;font-size:14.0px;">155</div>
<div class="t c " style="left:503.80px;width:56px;top:1157.92px;font-size:14.0px;">ЦИНК</div>
<div class="t c " style="left:557.10px;width:50px;top:1141.12px;font-size:14.0px;">115</div>
<div class="t c " style="left:554.10px;width:56px;top:1157.92px;font-size:14.0px;">ЦИНК</div>
<div class="t c " style="left:607.40px;width:50px;top:1141.12px;font-size:14.0px;">126</div>
<div class="t c " style="left:604.40px;width:56px;top:1157.92px;font-size:14.0px;">ЦИНК</div>
<div class="t c " style="left:657.70px;width:50px;top:1141.12px;font-size:14.0px;">94.0</div>
<div class="t c " style="left:654.70px;width:56px;top:1157.92px;font-size:14.0px;">ЦИНК</div>
<div class="t c " style="left:709.00px;width:100px;top:1149.60px;font-size:15.8px;">155</div>
<div class="t c " style="left:795.30px;width:100px;top:1149.60px;font-size:15.8px;">94</div>
<div class="t c " style="left:881.80px;width:100px;top:1149.60px;font-size:15.8px;">128.7</div>
<div class="t c " style="left:974.00px;width:160px;top:1149.60px;font-size:15.8px;">Норма</div>
<div class="ln" style="top:1175.26px"></div>
<div class="t " style="left:16.40px;top:1196.69px;font-size:15.8px;">15</div>
<div class="t " style="left:40.10px;top:1196.69px;font-size:15.8px;">Права стійка A</div>
<div class="t c " style="left:205.00px;width:50px;top:1188.31px;font-size:14.0px;">68.0</div>
<div class="t c " style="left:202.00px;width:56px;top:1205.11px;font-size:14.0px;">ЦИНК</div>
<div class="t c " style="left:255.30px;width:50px;top:1188.31px;font-size:14.0px;">49.0</div>
<div class="t c " style="left:252.30px;width:56px;top:1205.11px;font-size:14.0px;">ЦИНК</div>
<div class="t c " style="left:305.60px;width:50px;top:1188.31px;font-size:14.0px;">59.0</div>
<div class="t c " style="left:302.60px;width:56px;top:1205.11px;font-size:14.0px;">ЦИНК</div>
<div class="t c " style="left:355.90px;width:50px;top:1188.31px;font-size:14.0px;">64.0</div>
<div class="t c " style="left:352.90px;width:56px;top:1205.11px;font-size:14.0px;">ЦИНК</div>
<div class="t c " style="left:406.20px;width:50px;top:1188.31px;font-size:14.0px;">87.0</div>
<div class="t c " style="left:403.20px;width:56px;top:1205.11px;font-size:14.0px;">ЦИНК</div>
<div class="t c " style="left:456.50px;width:50px;top:1188.31px;font-size:14.0px;">60.0</div>
<div class="t c " style="left:453.50px;width:56px;top:1205.11px;font-size:14.0px;">ЦИНК</div>
<div class="t c " style="left:506.80px;width:50px;top:1188.31px;font-size:14.0px;">98.0</div>
<div class="t c " style="left:503.80px;width:56px;top:1205.11px;font-size:14.0px;">ЦИНК</div>
<div class="t c " style="left:557.10px;width:50px;top:1188.31px;font-size:14.0px;">68.0</div>
<div class="t c " style="left:554.10px;width:56px;top:1205.11px;font-size:14.0px;">ЦИНК</div>
<div class="t c " style="left:607.40px;width:50px;top:1188.31px;font-size:14.0px;">68.0</div>
<div class="t c " style="left:604.40px;width:56px;top:1205.11px;font-size:14.0px;">ЦИНК</div>
<div class="t c " style="left:657.70px;width:50px;top:1188.31px;font-size:14.0px;">69.0</div>
<div class="t c " style="left:654.70px;width:56px;top:1205.11px;font-size:14.0px;">ЦИНК</div>
<div class="t c " style="left:709.00px;width:100px;top:1196.79px;font-size:15.8px;">98</div>
<div class="t c " style="left:795.30px;width:100px;top:1196.79px;font-size:15.8px;">49</div>
<div class="t c " style="left:881.80px;width:100px;top:1196.79px;font-size:15.8px;">69.0</div>
<div class="t c " style="left:974.00px;width:160px;top:1196.79px;font-size:15.8px;">Норма</div>
<div class="ln" style="top:1222.45px"></div>
<div class="t " style="left:16.40px;top:1243.88px;font-size:15.8px;">16</div>
<div class="t " style="left:40.10px;top:1243.88px;font-size:15.8px;">Праве переднє крило</div>
<div class="t c " style="left:205.00px;width:50px;top:1235.50px;font-size:14.0px;">149</div>
<div class="t c " style="left:202.00px;width:56px;top:1252.30px;font-size:14.0px;">ЦИНК</div>
<div class="t c " style="left:255.30px;width:50px;top:1235.50px;font-size:14.0px;">149</div>
<div class="t c " style="left:252.30px;width:56px;top:1252.30px;font-size:14.0px;">ЦИНК</div>
<div class="t c " style="left:305.60px;width:50px;top:1235.50px;font-size:14.0px;">133</div>
<div class="t c " style="left:302.60px;width:56px;top:1252.30px;font-size:14.0px;">ЦИНК</div>
<div class="t c " style="left:355.90px;width:50px;top:1235.50px;font-size:14.0px;">164</div>
<div class="t c " style="left:352.90px;width:56px;top:1252.30px;font-size:14.0px;">ЦИНК</div>
<div class="t c " style="left:406.20px;width:50px;top:1235.50px;font-size:14.0px;">120</div>
<div class="t c " style="left:403.20px;width:56px;top:1252.30px;font-size:14.0px;">ЦИНК</div>
<div class="t c " style="left:456.50px;width:50px;top:1235.50px;font-size:14.0px;">133</div>
<div class="t c " style="left:453.50px;width:56px;top:1252.30px;font-size:14.0px;">ЦИНК</div>
<div class="t c " style="left:506.80px;width:50px;top:1235.50px;font-size:14.0px;">141</div>
<div class="t c " style="left:503.80px;width:56px;top:1252.30px;font-size:14.0px;">ЦИНК</div>
<div class="t c " style="left:557.10px;width:50px;top:1235.50px;font-size:14.0px;">102</div>
<div class="t c " style="left:554.10px;width:56px;top:1252.30px;font-size:14.0px;">ЦИНК</div>
<div class="t c " style="left:607.40px;width:50px;top:1235.50px;font-size:14.0px;">79.0</div>
<div class="t c " style="left:604.40px;width:56px;top:1252.30px;font-size:14.0px;">ЦИНК</div>
<div class="t c " style="left:657.70px;width:50px;top:1235.50px;font-size:14.0px;">155</div>
<div class="t c " style="left:654.70px;width:56px;top:1252.30px;font-size:14.0px;">ЦИНК</div>
<div class="t c " style="left:709.00px;width:100px;top:1243.98px;font-size:15.8px;">164</div>
<div class="t c " style="left:795.30px;width:100px;top:1243.98px;font-size:15.8px;">79</div>
<div class="t c " style="left:881.80px;width:100px;top:1243.98px;font-size:15.8px;">132.5</div>
<div class="t c " style="left:974.00px;width:160px;top:1243.98px;font-size:15.8px;">Норма</div>
<div class="ln" style="top:1269.64px"></div>
<div class="t " style="left:16.40px;top:1291.07px;font-size:15.8px;">17</div>
<div class="t " style="left:40.10px;top:1291.07px;font-size:15.8px;">Дах</div>
<div class="t c " style="left:205.00px;width:50px;top:1282.69px;font-size:14.0px;">144</div>
<div class="t c " style="left:202.00px;width:56px;top:1299.49px;font-size:14.0px;">ЧОРН</div>
<div class="t c " style="left:255.30px;width:50px;top:1282.69px;font-size:14.0px;">122</div>
<div class="t c " style="left:252.30px;width:56px;top:1299.49px;font-size:14.0px;">ЧОРН</div>
<div class="t c " style="left:305.60px;width:50px;top:1282.69px;font-size:14.0px;">143</div>
<div class="t c " style="left:302.60px;width:56px;top:1299.49px;font-size:14.0px;">ЧОРН</div>
<div class="t c " style="left:355.90px;width:50px;top:1282.69px;font-size:14.0px;">116</div>
<div class="t c " style="left:352.90px;width:56px;top:1299.49px;font-size:14.0px;">ЧОРН</div>
<div class="t c " style="left:406.20px;width:50px;top:1282.69px;font-size:14.0px;">103</div>
<div class="t c " style="left:403.20px;width:56px;top:1299.49px;font-size:14.0px;">ЧОРН</div>
<div class="t c " style="left:456.50px;width:50px;top:1282.69px;font-size:14.0px;">107</div>
<div class="t c " style="left:453.50px;width:56px;top:1299.49px;font-size:14.0px;">ЧОРН</div>
<div class="t c " style="left:506.80px;width:50px;top:1282.69px;font-size:14.0px;">115</div>
<div class="t c " style="left:503.80px;width:56px;top:1299.49px;font-size:14.0px;">ЧОРН</div>
<div class="t c " style="left:557.10px;width:50px;top:1282.69px;font-size:14.0px;">138</div>
<div class="t c " style="left:554.10px;width:56px;top:1299.49px;font-size:14.0px;">ЧОРН</div>
<div class="t c " style="left:607.40px;width:50px;top:1282.69px;font-size:14.0px;">113</div>
<div class="t c " style="left:604.40px;width:56px;top:1299.49px;font-size:14.0px;">ЧОРН</div>
<div class="t c " style="left:657.70px;width:50px;top:1282.69px;font-size:14.0px;">113</div>
<div class="t c " style="left:654.70px;width:56px;top:1299.49px;font-size:14.0px;">ЧОРН</div>
<div class="t c " style="left:709.00px;width:100px;top:1291.17px;font-size:15.8px;">144</div>
<div class="t c " style="left:795.30px;width:100px;top:1291.17px;font-size:15.8px;">103</div>
<div class="t c " style="left:881.80px;width:100px;top:1291.17px;font-size:15.8px;">121.4</div>
<div class="t c " style="left:974.00px;width:160px;top:1291.17px;font-size:15.8px;">Норма</div>
<div class="ln" style="top:1316.83px"></div>
<div class="t " style="left:26.00px;top:1336.73px;font-size:15.8px;">Ім'я експерта:ВК</div>
<div class="t " style="left:447.00px;top:1336.53px;font-size:15.8px;">Організація:</div>
<div class="t " style="left:867.50px;top:1336.53px;font-size:15.8px;">Дата огляду:2025-09-20</div>
<div class="t red" style="left:513.60px;top:1413.13px;font-size:15.8px;">Дана інформація лише для довідки</div>
<svg style="left:1030px;top:198px" width="170" height="60" viewBox="0 0 170 60">
<path d="M6.9,47.6 C6.4,43 6.8,40.5 7.2,39.4 C8,35 9,32.5 11.1,30.8 C14,28 17,26.5 19.7,25.6 C25,23.8 29,23 32.8,22.6 L49.8,21.6 C55,18 63,13.5 72.1,10.3 C77,8.8 81,8.2 86,7.8 L101.6,7.2 C110,8 117,10 122.6,11.8 C130,14 137,16.5 142.3,18.4 C147,19.5 152,19.7 156.7,19.9 L157.6,27.5 C159.4,29.5 160.7,31 160.8,34.1 L160.7,42.6 C158,45.5 154,47 150.8,47.4 L134.4,48 L113,48 L52,48.5 L13,48.9 C10,48.7 8,48.3 6.9,47.6 Z" fill="#fff" stroke="#5a5a5a" stroke-width="0.9"/>
<path d="M24.5,30 C25.8,27 27,25.5 28.4,25 L49.8,22.7 L53,23.4 L53,47.9 L45.6,47.9 C45,40 41,34.5 34.4,33.6 C29.5,33.6 26.5,35.2 24.2,37 C23.4,34.5 23.6,32 24.5,30 Z" fill="#2fd37f"/>
<path d="M50.5,22.8 C58,17.5 66,13.2 75,10.8 C80,9.7 85,9.1 90,8.8 L101.6,8.3 C112,9.2 118,11 123,12.6 L142,19 C145,20.3 147,21.3 148.6,22.4 L152.3,34.1 L133.5,34.6 C127,36.5 117,41 110,46.5 L108,47.6 L53,47.6 Z" fill="#2fd37f"/>
<path d="M53.1,24 L121.6,22.1 C118,30 112,40 107.8,47.4 L53.1,47.4 Z" fill="#e1504a"/>
<path d="M87.6,22.5 L87.2,45.5" stroke="#f08a86" stroke-width="0.7"/>
<path d="M53.1,46 L108.5,45.8" stroke="#e1504a" stroke-opacity="0.5" stroke-width="1.2"/>
<path d="M57.5,22.2 C63,18 70,14 78,11.6 C82,10.8 85,10.6 88.3,10.5 L86.6,22.2 Z" fill="#fff"/>
<path d="M93.2,10.4 L111.3,10.9 L111.3,22.2 L91.3,22.2 Z" fill="#fff"/>
<path d="M113,11.2 L122.4,12.5 L121.2,22.1 L113,22.2 Z" fill="#fff"/>
<path d="M49.8,21.6 C55,18 63,13.5 72.1,10.3 C77,8.8 81,8.2 86,7.8 L101.6,7.2 C110,8 117,10 122.6,11.8 C130,14 137,16.5 142.3,18.4 C147,19.5 152,19.7 156.7,19.9" fill="none" stroke="#555" stroke-width="1.4"/>
<path d="M13,48.9 L150.8,47.6" fill="none" stroke="#5a5a5a" stroke-width="0.9"/>
<path d="M148.8,22.6 C151,22.5 154,23 156.5,24 L157.6,27.5 L155,29.5 C152.5,29 150.5,27.5 148.8,22.6 Z" fill="#e6e6e6" stroke="#999" stroke-width="0.5"/>
<path d="M11,32 C15,30.5 19,30 23,30.5 M8.5,38.5 L20,38.5 M8.5,43 L17,43 M152,30 L158,31 M153,36 L160,36" fill="none" stroke="#9a9a9a" stroke-width="0.6"/>
<circle cx="35" cy="44.2" r="11.6" fill="#fff"/>
<circle cx="124.1" cy="43.9" r="11.6" fill="#fff"/>
<circle cx="35" cy="44.2" r="8.6" fill="#e2e2e2" stroke="#111" stroke-width="3.1"/><path d="M35,37 L35,51.4 M28,44.2 L42,44.2 M30,39.2 L40,49.2 M40,39.2 L30,49.2" stroke="#c4c4c4" stroke-width="0.5"/>
<circle cx="124.1" cy="43.9" r="8.5" fill="#e2e2e2" stroke="#111" stroke-width="3.1"/><path d="M124.1,36.7 L124.1,51.1 M117,43.9 L131.2,43.9 M119.1,38.9 L129.1,48.9 M129.1,38.9 L119.1,48.9" stroke="#c4c4c4" stroke-width="0.5"/>
</svg>
<svg style="left:1030px;top:292px" width="170" height="60" viewBox="0 0 170 60"><g transform="translate(167.6,0) scale(-1,1)">
<path d="M6.9,47.6 C6.4,43 6.8,40.5 7.2,39.4 C8,35 9,32.5 11.1,30.8 C14,28 17,26.5 19.7,25.6 C25,23.8 29,23 32.8,22.6 L49.8,21.6 C55,18 63,13.5 72.1,10.3 C77,8.8 81,8.2 86,7.8 L101.6,7.2 C110,8 117,10 122.6,11.8 C130,14 137,16.5 142.3,18.4 C147,19.5 152,19.7 156.7,19.9 L157.6,27.5 C159.4,29.5 160.7,31 160.8,34.1 L160.7,42.6 C158,45.5 154,47 150.8,47.4 L134.4,48 L113,48 L52,48.5 L13,48.9 C10,48.7 8,48.3 6.9,47.6 Z" fill="#fff" stroke="#5a5a5a" stroke-width="0.9"/>
<path d="M24.5,30 C25.8,27 27,25.5 28.4,25 L49.8,22.7 L53,23.4 L53,47.9 L45.6,47.9 C45,40 41,34.5 34.4,33.6 C29.5,33.6 26.5,35.2 24.2,37 C23.4,34.5 23.6,32 24.5,30 Z" fill="#2fd37f"/>
<path d="M50.5,22.8 C58,17.5 66,13.2 75,10.8 C80,9.7 85,9.1 90,8.8 L101.6,8.3 C112,9.2 118,11 123,12.6 L142,19 C145,20.3 147,21.3 148.6,22.4 L152.3,34.1 L133.5,34.6 C127,36.5 117,41 110,46.5 L108,47.6 L53,47.6 Z" fill="#2fd37f"/>
<path d="M53.1,24 L121.6,22.1 C118,30 112,40 107.8,47.4 L53.1,47.4 Z" fill="#2fd37f"/>
<path d="M87.6,22.5 L87.2,45.5" stroke="#6ee3a8" stroke-width="0.7"/>
<path d="M53.1,46 L108.5,45.8" stroke="#2fd37f" stroke-opacity="0.5" stroke-width="1.2"/>
<path d="M57.5,22.2 C63,18 70,14 78,11.6 C82,10.8 85,10.6 88.3,10.5 L86.6,22.2 Z" fill="#fff"/>
<path d="M93.2,10.4 L111.3,10.9 L111.3,22.2 L91.3,22.2 Z" fill="#fff"/>
<path d="M113,11.2 L122.4,12.5 L121.2,22.1 L113,22.2 Z" fill="#fff"/>
<path d="M49.8,21.6 C55,18 63,13.5 72.1,10.3 C77,8.8 81,8.2 86,7.8 L101.6,7.2 C110,8 117,10 122.6,11.8 C130,14 137,16.5 142.3,18.4 C147,19.5 152,19.7 156.7,19.9" fill="none" stroke="#555" stroke-width="1.4"/>
<path d="M13,48.9 L150.8,47.6" fill="none" stroke="#5a5a5a" stroke-width="0.9"/>
<path d="M148.8,22.6 C151,22.5 154,23 156.5,24 L157.6,27.5 L155,29.5 C152.5,29 150.5,27.5 148.8,22.6 Z" fill="#e6e6e6" stroke="#999" stroke-width="0.5"/>
<path d="M11,32 C15,30.5 19,30 23,30.5 M8.5,38.5 L20,38.5 M8.5,43 L17,43 M152,30 L158,31 M153,36 L160,36" fill="none" stroke="#9a9a9a" stroke-width="0.6"/>
<circle cx="35" cy="44.2" r="11.6" fill="#fff"/>
<circle cx="124.1" cy="43.9" r="11.6" fill="#fff"/>
<circle cx="35" cy="44.2" r="8.6" fill="#e2e2e2" stroke="#111" stroke-width="3.1"/><path d="M35,37 L35,51.4 M28,44.2 L42,44.2 M30,39.2 L40,49.2 M40,39.2 L30,49.2" stroke="#c4c4c4" stroke-width="0.5"/>
<circle cx="124.1" cy="43.9" r="8.5" fill="#e2e2e2" stroke="#111" stroke-width="3.1"/><path d="M124.1,36.7 L124.1,51.1 M117,43.9 L131.2,43.9 M119.1,38.9 L129.1,48.9 M129.1,38.9 L119.1,48.9" stroke="#c4c4c4" stroke-width="0.5"/>
</g></svg>
<svg style="left:1200px;top:195px" width="80" height="165" viewBox="0 0 80 165">
<path d="M32.8,5.5 L49.6,5.5 C58,6.5 65,10 67.5,16 C70,21 70.7,26 70.7,32 L70.7,134 C70.7,144 69.5,150 67.5,153 C65.5,157 62,159.4 59.4,159.4 L23.5,159.4 C20,159.4 16.5,157 14.5,153 C12.5,150 11.3,144 11.3,134 L11.3,32 C11.3,26 12,21 14.5,16 C17,10 24,6.5 32.8,5.5 Z" fill="#fff" stroke="#5a5a5a" stroke-width="1.2"/>
<path d="M33.5,9 L48.5,9 C56,9.8 62,13 64.5,18 C66.5,22 67,28 67,34 L67,134 C67,143 65.5,149 63.5,152 C61.5,155 59,156.5 57,156.5 L25,156.5 C23,156.5 20.5,155 18.5,152 C16.5,149 15,143 15,134 L15,34 C15,28 15.5,22 17.5,18 C20,13 26,9.8 33.5,9 Z" fill="none" stroke="#8a8a8a" stroke-width="0.7"/>
<path d="M23,14.5 C28,13 54,13 59,14.5 C61.5,15.5 62.5,18 62.7,22 L62.9,49.8 C56,46 48,44.6 40.9,44.6 C34,44.6 26,46 18.9,49.2 L19.1,22 C19.3,18 20.5,15.5 23,14.5 Z" fill="#2fd37f"/>
<path d="M21.2,71.2 C28,69.5 34,68.9 40.9,68.9 C48,68.9 54,69.5 60.6,71.2 L59.4,119 C59.2,120.3 58.5,120.8 57,121 C52,121.8 46,122 40.9,122 C35,122 30,121.8 25,121 C23.5,120.8 22.6,120.3 22.4,119 Z" fill="#2fd37f"/>
<path d="M21.8,141.7 C28,142.5 34,143.2 40.9,143.2 C48,143.2 54,142.5 60,141.7 L59.5,151 C59,153 58,154.4 56,154.4 L25.5,154.4 C23.5,154.4 22.5,153 22.2,151 Z" fill="#2fd37f"/>
<path d="M18.9,49.4 L21.2,71.2 M62.9,49.9 L60.6,71.2 M17.2,122 L21.8,141.7 M65,122 L60,141.7 M15,88 L21.6,88 M67,88 L60.2,88 M15.2,50 L18.9,49.4 M66.8,50 L62.9,49.9" fill="none" stroke="#9a9a9a" stroke-width="0.6"/>
<path d="M8.3,59.6 L11.3,58 L11.3,63.5 L8.6,62.6 Z M73.7,59.6 L70.7,58 L70.7,63.5 L73.4,62.6 Z" fill="#fff" stroke="#6a6a6a" stroke-width="0.7"/>
</svg>
</body></html>
